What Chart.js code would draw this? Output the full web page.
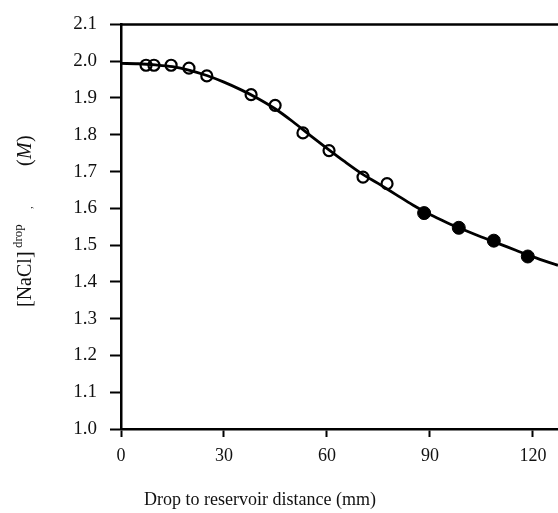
<!DOCTYPE html>
<html>
<head>
<meta charset="utf-8">
<script src="https://cdn.jsdelivr.net/npm/chart.js@4.4.1/dist/chart.umd.min.js"></script>
<style>
  html, body { margin: 0; padding: 0; background: #fff; overflow: hidden; }
  canvas { display: block; }
</style>
</head>
<body>
<canvas id="chart" width="558" height="513"></canvas>
<script>
// open circles (measured drops)
const openX = [7.3, 9.6, 14.6, 19.8, 25.0, 37.9, 44.9, 53.0, 60.6, 70.5, 77.5];
const openY = [1.989, 1.989, 1.989, 1.981, 1.960, 1.909, 1.880, 1.805, 1.757, 1.685, 1.667];

// filled circles
const filledX = [88.3, 98.4, 108.6, 118.5];
const filledY = [1.587, 1.547, 1.512, 1.469];

// fitted curve
const curveX = [0, 5, 10, 15, 20, 25, 30, 35, 40, 45, 50, 55, 60, 65, 70, 75, 80, 85, 90, 95, 100, 105, 110, 115, 120, 127.3];
const curveY = [1.994, 1.993, 1.990, 1.985, 1.975, 1.961, 1.943, 1.922, 1.898, 1.870, 1.836, 1.799, 1.763, 1.728, 1.695, 1.667, 1.638, 1.609, 1.583, 1.561, 1.541, 1.522, 1.504, 1.486, 1.468, 1.445];

const xTicks = [0, 30, 60, 90, 120];
const yTicks = [1.0, 1.1, 1.2, 1.3, 1.4, 1.5, 1.6, 1.7, 1.8, 1.9, 2.0, 2.1];

const serif = "'Liberation Serif', 'DejaVu Serif', serif";
const toPts = (xs, ys) => xs.map((x, i) => ({ x, y: ys[i] }));

// axis titles + top frame line (the y title needs a superscript, so it is drawn by hand)
const titlesPlugin = {
  id: "titles",
  afterDraw(chart) {
    const c = chart.ctx;
    const a = chart.chartArea;
    c.save();
    // top frame line
    c.strokeStyle = "#000";
    c.lineWidth = 2.5;
    c.beginPath();
    c.moveTo(a.left, a.top);
    c.lineTo(a.right, a.top);
    c.stroke();

    c.fillStyle = "#111";
    // x title
    c.font = "18px " + serif;
    c.textAlign = "center";
    c.textBaseline = "middle";
    c.fillText("Drop to reservoir distance (mm)", a.left + 139, 500);

    // y title, rotated, read bottom to top
    c.translate(31, 313);
    c.rotate(-Math.PI / 2);
    c.textAlign = "left";
    c.textBaseline = "alphabetic";
    const parts = [
      { t: "[NaCl]", f: "20px " + serif, at: 6, dy: 0 },
      { t: "drop", f: "13px " + serif, at: 65, dy: -9 },
      { t: ",", f: "11px " + serif, at: 104, dy: 1 },
      { t: "(", f: "20px " + serif, at: 147, dy: 0 },
      { t: "M", f: "italic 20px " + serif, at: 154, dy: 0 },
      { t: ")", f: "20px " + serif, at: 171, dy: 0 }
    ];
    parts.forEach(p => {
      c.font = p.f;
      c.fillText(p.t, p.at, p.dy);
    });
    c.restore();
  }
};

const ctx = document.getElementById("chart").getContext("2d");
new Chart(ctx, {
  type: "scatter",
  data: {
    datasets: [
      {
        label: "fit",
        type: "line",
        data: toPts(curveX, curveY),
        borderColor: "#000",
        borderWidth: 2.8,
        pointRadius: 0,
        tension: 0.4,
        cubicInterpolationMode: "monotone",
        fill: false,
        order: 3
      },
      {
        label: "open",
        data: toPts(openX, openY),
        pointRadius: 5.5,
        pointBorderWidth: 2.2,
        pointBorderColor: "#000",
        pointBackgroundColor: "rgba(0,0,0,0)",
        order: 2
      },
      {
        label: "filled",
        data: toPts(filledX, filledY),
        pointRadius: 6.5,
        pointBorderWidth: 1,
        pointBorderColor: "#000",
        pointBackgroundColor: "#000",
        order: 1
      }
    ]
  },
  options: {
    responsive: false,
    animation: false,
    devicePixelRatio: 1,
    layout: { autoPadding: false, padding: { top: 16, right: 0, left: 0, bottom: 0 } },
    plugins: {
      legend: { display: false },
      tooltip: { enabled: false }
    },
    scales: {
      x: {
        type: "linear",
        min: 0,
        max: 127.3,
        afterFit: s => { s.height = 84; },
        afterBuildTicks: s => { s.ticks = xTicks.map(v => ({ value: v })); },
        border: { color: "#000", width: 2.5 },
        grid: { drawOnChartArea: false, drawTicks: true, tickLength: 8, tickWidth: 2, tickColor: "#000" },
        ticks: {
          color: "#111",
          padding: 8,
          maxRotation: 0,
          font: { family: serif, size: 18 },
          callback: v => String(v)
        }
      },
      y: {
        min: 1.0,
        max: 2.1,
        afterFit: s => { s.width = 121; },
        afterBuildTicks: s => { s.ticks = yTicks.map(v => ({ value: v })); },
        border: { color: "#000", width: 2.5 },
        grid: { drawOnChartArea: false, drawTicks: true, tickLength: 11, tickWidth: 2, tickColor: "#000" },
        ticks: {
          color: "#111",
          padding: 13,
          font: { family: serif, size: 19 },
          callback: v => Number(v).toFixed(1)
        }
      }
    }
  },
  plugins: [titlesPlugin]
});
</script>
</body>
</html>
